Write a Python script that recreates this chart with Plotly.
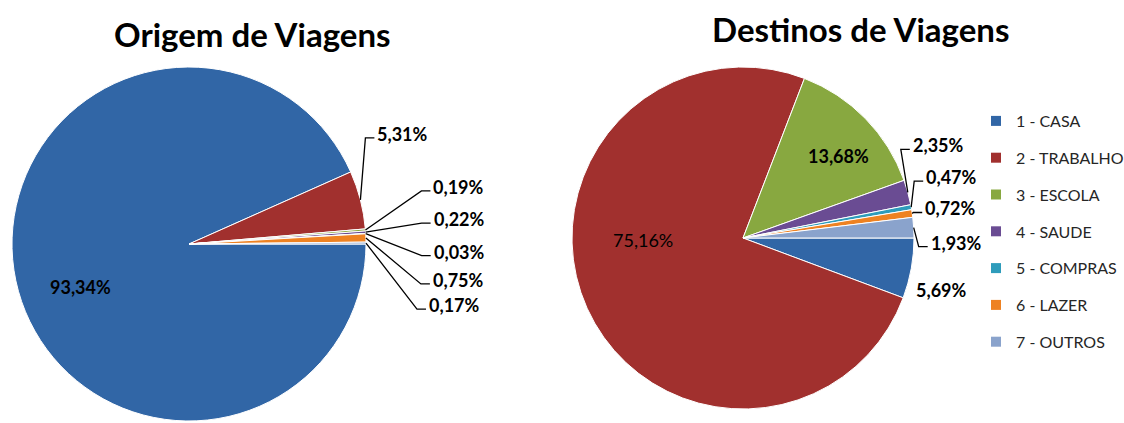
import math
import plotly.graph_objects as go

# ---- data -------------------------------------------------------------
categories = ["1 - CASA", "2 - TRABALHO", "3 - ESCOLA", "4 - SAUDE",
              "5 - COMPRAS", "6 - LAZER", "7 - OUTROS"]
origem_pct = [93.34, 5.31, 0.19, 0.22, 0.03, 0.75, 0.17]
destino_pct = [5.69, 75.16, 13.68, 2.35, 0.47, 0.72, 1.93]

# ---- style ------------------------------------------------------------
colors = ["#3166A6", "#A1302E", "#88A840", "#6A4C93", "#2E9CBB", "#EE8222", "#8AA3CC"]
W, H = 1124, 423
FONT = "Lato"
LABEL_SIZE = 18

# pie geometry in pixels: centre x, centre y, radius
pies = {
    "origem": dict(cx=189, cy=244, r=177, values=origem_pct),
    "destino": dict(cx=743, cy=238, r=171, values=destino_pct),
}

# label placement, offsets in px from the point where the slice's mid-angle
# meets the rim.
# (mode, dx, dy, bold)
#   "in"  -> text centred at rim + offset, no leader line
#   "out" -> text left-aligned at rim + offset, with an elbowed leader line
origem_labels = [
    ("in", 65, 6, True),
    ("out", 15, -66, True),
    ("out", 66, -43, True),
    ("out", 66, -13, True),
    ("out", 66, 18, True),
    ("out", 65, 42, True),
    ("out", 61, 62, True),
]
destino_labels = [
    ("in", 30, 22, True),
    ("in", 56, -68, False),
    ("in", -27, 37, True),
    ("out", 3, -47, True),
    ("out", 13, -30, True),
    ("out", 11, -5, True),
    ("out", 15, 15, True),
]


def px2paper(x, y):
    return x / W, 1 - y / H


def fmt(v):
    return f"{v:.2f}".replace(".", ",") + "%"


fig = go.Figure()
annotations = []
shapes = []

for key, lab in (("origem", origem_labels), ("destino", destino_labels)):
    p = pies[key]
    cx, cy, r, vals = p["cx"], p["cy"], p["r"], p["values"]
    x0, y1 = px2paper(cx - r, cy - r)
    x1, y0 = px2paper(cx + r, cy + r)
    fig.add_trace(go.Pie(
        labels=categories, values=vals, sort=False,
        direction="clockwise", rotation=90,
        marker=dict(colors=colors, line=dict(color="white", width=1)),
        textinfo="none", hoverinfo="label+percent",
        domain=dict(x=[x0, x1], y=[y0, y1]),
        showlegend=False,
    ))
    total = sum(vals)
    start = 0.0
    for v, (mode, dx, dy, bold) in zip(vals, lab):
        mid = start + v / total * 180.0
        start += v / total * 360.0
        a = math.radians(mid)
        ex, ey = cx + r * math.cos(a), cy + r * math.sin(a)
        tx, ty = ex + dx, ey + dy
        txt = fmt(v)
        if bold:
            txt = "<b>" + txt + "</b>"
        px_, py_ = px2paper(tx, ty)
        annotations.append(dict(
            x=px_, y=py_, xref="paper", yref="paper", text=txt,
            showarrow=False, xanchor="center" if mode == "in" else "left",
            yanchor="middle",
            font=dict(family=FONT, size=LABEL_SIZE, color="black")))
        if mode == "out":
            # leader line: rim -> elbow -> text
            ly = ty + 4
            pts = [(ex, ey), (tx - 10, ly), (tx - 1, ly)]
            path = "M " + " L ".join(
                f"{px2paper(x, y)[0]:.5f},{px2paper(x, y)[1]:.5f}" for x, y in pts)
            shapes.append(dict(type="path", path=path, xref="paper", yref="paper",
                               line=dict(color="black", width=1.3)))

# legend entries
for name, c in zip(categories, colors):
    fig.add_trace(go.Scatter(
        x=[None], y=[None], mode="markers", name=name, legendgroup=name,
        marker=dict(symbol="square", size=10, color=c),
        showlegend=True, hoverinfo="skip"))

# titles
for text, x, y in (("Origem de Viagens", 252, 34), ("Destinos de Viagens", 860, 29)):
    px_, py_ = px2paper(x, y)
    annotations.append(dict(
        x=px_, y=py_, xref="paper", yref="paper", text=f"<b>{text}</b>",
        showarrow=False, xanchor="center", yanchor="middle",
        font=dict(family=FONT, size=33, color="black")))

fig.update_layout(
    width=W, height=H,
    margin=dict(l=0, r=0, t=0, b=0, autoexpand=False),
    paper_bgcolor="white", plot_bgcolor="white",
    xaxis=dict(visible=False), yaxis=dict(visible=False),
    annotations=annotations, shapes=shapes,
    legend=dict(x=976 / W, y=1 - 104 / H, xanchor="left", yanchor="top",
                font=dict(family=FONT, size=16, color="#262626"),
                tracegroupgap=13, itemsizing="trace",
                bgcolor="rgba(0,0,0,0)"),
)

fig.write_html("out.html")
